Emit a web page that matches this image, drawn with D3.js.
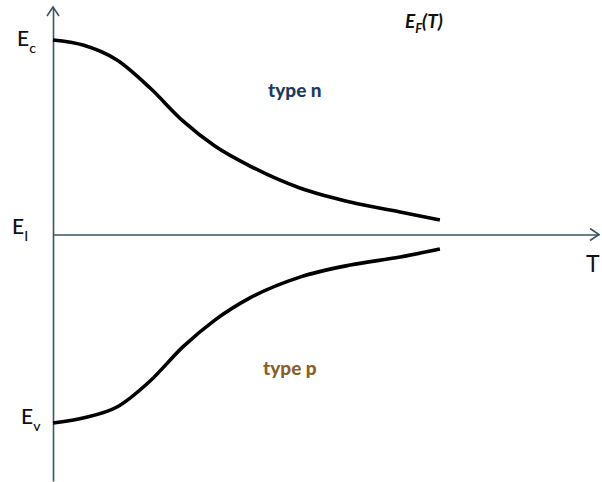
<!DOCTYPE html>
<html>
<head>
<meta charset="utf-8">
<script src="https://cdn.jsdelivr.net/npm/d3@7"></script>
<style>
  body { margin: 0; background: #fff; }
  text { font-family: Lato, "Open Sans", sans-serif; }
</style>
</head>
<body>
<div id="chart"></div>
<script>
// Fermi level vs temperature (arbitrary units)
var nT = [0, 7.7, 16.4, 24.9, 33.3, 41.5, 50.5, 63.3, 76.2, 89, 99.2];
var nE = [1.0, 0.974, 0.897, 0.753, 0.584, 0.455, 0.352, 0.239, 0.167, 0.116, 0.075];

var pT = [0, 7.7, 16.4, 24.9, 33.3, 41.5, 50.5, 63.3, 76.2, 89, 99.2];
var pE = [-0.969, -0.943, -0.887, -0.753, -0.578, -0.44, -0.326, -0.219, -0.157, -0.116, -0.075];

var levels = [
    {name: "E", sub: "c", e: 1.0},
    {name: "E", sub: "I", e: 0.0},
    {name: "E", sub: "v", e: -0.969}
];

var width = 602, height = 482;

var svg = d3.select("#chart")
    .append("svg")
    .attr("width", width)
    .attr("height", height);

var x = d3.scaleLinear()
    .domain([0, 140])
    .range([53, 599]);

var y = d3.scaleLinear()
    .domain([-1, 1])
    .range([429, 40]);

var axisColor = "#3b5663";

// horizontal (T) axis at E = Ei
svg.append("g")
    .attr("transform", "translate(0," + y(0) + ")")
    .call(d3.axisBottom(x).tickValues([]).tickSizeOuter(0))
    .call(function (g) {
        g.select(".domain").attr("stroke", axisColor).attr("stroke-width", 1.6);
    });

// vertical axis, running from the bottom of the page to the arrow
var yAxis = d3.scaleLinear()
    .domain([y.invert(481), y.invert(7)])
    .range([481, 7]);

svg.append("g")
    .attr("transform", "translate(" + x(0) + ",0)")
    .call(d3.axisLeft(yAxis).tickValues([]).tickSizeOuter(0))
    .call(function (g) {
        g.select(".domain").attr("stroke", axisColor).attr("stroke-width", 1.6);
    });

// arrow heads
var ax = x(0), ay = yAxis.range()[1];
svg.append("path")
    .attr("d", "M" + (ax - 6) + "," + (ay + 9) + "L" + ax + "," + ay + "L" + (ax + 6) + "," + (ay + 9))
    .attr("fill", "none")
    .attr("stroke", axisColor)
    .attr("stroke-width", 1.6);

var hx = x.range()[1], hy = y(0);
svg.append("path")
    .attr("d", "M" + (hx - 9) + "," + (hy - 6) + "L" + hx + "," + hy + "L" + (hx - 9) + "," + (hy + 6))
    .attr("fill", "none")
    .attr("stroke", axisColor)
    .attr("stroke-width", 1.6);

// curves
var line = d3.line()
    .x(function (d) { return x(d[0]); })
    .y(function (d) { return y(d[1]); })
    .curve(d3.curveMonotoneX);

svg.append("path")
    .datum(d3.zip(nT, nE))
    .attr("d", line)
    .attr("fill", "none")
    .attr("stroke", "#000")
    .attr("stroke-width", 3.6);

svg.append("path")
    .datum(d3.zip(pT, pE))
    .attr("d", line)
    .attr("fill", "none")
    .attr("stroke", "#000")
    .attr("stroke-width", 3.6);

// level labels
var offs = [{dx: 17, dy: 46}, {dx: 12, dy: 234}, {dx: 21, dy: 424}];
levels.forEach(function (d, i) {
    var t = svg.append("text")
        .attr("x", offs[i].dx)
        .attr("y", offs[i].dy)
        .attr("fill", "#111")
        .style("font-size", "21px")
        .style("font-weight", 500);
    t.append("tspan").text(d.name);
    t.append("tspan")
        .attr("dy", 7)
        .style("font-size", "14px")
        .text(d.sub);
});

// T label
svg.append("text")
    .attr("x", 586)
    .attr("y", 272)
    .attr("fill", "#111")
    .style("font-size", "23px")
    .text("T");

// title E_F(T)
var title = svg.append("text")
    .attr("x", 405)
    .attr("y", 28)
    .attr("fill", "#111")
    .style("font-size", "19px")
    .style("font-weight", "bold")
    .style("font-style", "italic");
title.append("tspan").text("E");
title.append("tspan").attr("dy", 5).style("font-size", "13px").text("F");
title.append("tspan").attr("dy", -5).text("(T)");

svg.append("text")
    .attr("x", 268)
    .attr("y", 97)
    .attr("fill", "#1f3a60")
    .style("font-size", "19px")
    .style("font-weight", "900")
    .text("type n");

svg.append("text")
    .attr("x", 263)
    .attr("y", 375)
    .attr("fill", "#8a5f2c")
    .style("font-size", "19px")
    .style("font-weight", "900")
    .text("type p");
</script>
</body>
</html>
